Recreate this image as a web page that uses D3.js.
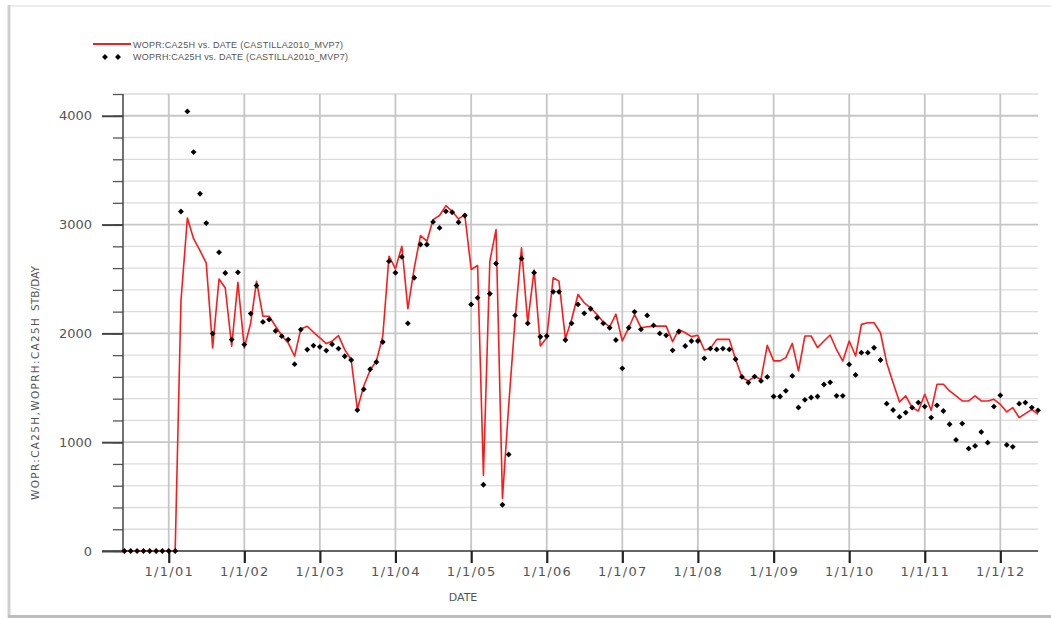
<!DOCTYPE html>
<html>
<head>
<meta charset="utf-8">
<script src="https://cdn.jsdelivr.net/npm/d3@7"></script>
<style>
  body { margin: 0; background: #fff; }
  svg { display: block; }
</style>
</head>
<body>
<svg id="chart" width="1051" height="620"></svg>
<script>
// Monthly values, first month = June 2000 (one value per month up to July 2012)
const firstMonth = new Date(2000, 5, 1);

// observed history, WOPRH:CA25H (black diamonds)
const woprh = [
    0, 0, 0, 0, 0, 0, 0,
    0, 0, 3120, 4040, 3666, 3283, 3014, 1998, 2745, 2555, 1943, 2561,
    1897, 2182, 2439, 2105, 2127, 2023, 1974, 1943, 1717, 2035, 1851, 1888,
    1876, 1842, 1900, 1860, 1790, 1755, 1295, 1486, 1670, 1737, 1921, 2664,
    2557, 2703, 2092, 2511, 2817, 2817, 3024, 2969, 3122, 3113, 3021, 3083,
    2266, 2327, 609, 2364, 2642, 425, 887, 2165, 2688, 2092, 2557, 1969,
    1976, 2382, 2382, 1939, 2092, 2266, 2184, 2226, 2144, 2092, 2052, 1939,
    1679, 2052, 2198, 2037, 2165, 2073, 2000, 1982, 1844, 2015, 1884, 1930,
    1930, 1771, 1860, 1853, 1860, 1853, 1762, 1600, 1548, 1603, 1563, 1600,
    1420, 1420, 1472, 1609, 1319, 1389, 1411, 1420, 1530, 1550, 1426, 1426,
    1715, 1618, 1823, 1823, 1868, 1755, 1354, 1296, 1232, 1272, 1318, 1364,
    1327, 1226, 1339, 1287, 1165, 1021, 1171, 941, 966, 1094, 996, 1327,
    1431, 975, 957, 1354, 1364, 1318, 1293
];

// simulated rate, WOPR:CA25H (red line)
const wopr = [
    0, 0, 0, 0, 0, 0, 0,
    0, 0, 2300, 3060, 2870, 2760, 2647, 1867, 2500, 2417, 1882, 2469,
    1867, 2096, 2479, 2157, 2157, 2066, 1980, 1912, 1790, 2041, 2066, 2010,
    1958, 1906, 1928, 1980, 1851, 1760, 1303, 1517, 1664, 1746, 1976, 2709,
    2593, 2801, 2226, 2602, 2899, 2847, 3046, 3083, 3174, 3122, 3052, 3092,
    2587, 2624, 697, 2664, 2954, 483, 1333, 2128, 2786, 2098, 2581, 1884,
    1960, 2511, 2480, 1951, 2128, 2358, 2281, 2235, 2174, 2105, 2060, 2177,
    1930, 2052, 2174, 2052, 2061, 2067, 2067, 2067, 1924, 2037, 2006, 1970,
    1982, 1847, 1860, 1945, 1945, 1945, 1762, 1594, 1563, 1603, 1579, 1890,
    1747, 1747, 1777, 1908, 1655, 1976, 1976, 1869, 1930, 1985, 1850, 1746,
    1930, 1792, 2083, 2098, 2098, 2006, 1731, 1547, 1370, 1425, 1318, 1287,
    1440, 1293, 1532, 1532, 1471, 1425, 1379, 1379, 1425, 1379, 1379, 1394,
    1348, 1278, 1318, 1226, 1263, 1302, 1256
];

const yearTicks = d3.range(2001, 2013).map(y => new Date(y, 0, 1));
const yMajor = [0, 1000, 2000, 3000, 4000];
const yMinor = d3.range(0, 4201, 200);

const legendLabels = [
    "WOPR:CA25H vs. DATE (CASTILLA2010_MVP7)",
    "WOPRH:CA25H vs. DATE (CASTILLA2010_MVP7)"
];

const svg = d3.select("#chart");
const font = "DejaVu Sans, Verdana, sans-serif";

// card frame / shadow
svg.append("rect").attr("width", 1051).attr("height", 620).attr("fill", "#fff");
svg.append("line").attr("x1", 8).attr("x2", 1051).attr("y1", 6).attr("y2", 6)
    .attr("stroke", "#ececec").attr("stroke-width", 2);
svg.append("line").attr("x1", 9).attr("x2", 9).attr("y1", 5).attr("y2", 618)
    .attr("stroke", "#cfcfcf").attr("stroke-width", 3);
svg.append("line").attr("x1", 8).attr("x2", 1051).attr("y1", 616.5).attr("y2", 616.5)
    .attr("stroke", "#bdbdbd").attr("stroke-width", 3);

// scales
const x = d3.scaleTime()
    .domain([new Date(2000, 4, 25), new Date(2012, 6, 1)])
    .range([123, 1038]);
const y = d3.scaleLinear().domain([0, 4200]).range([551, 94]);

const monthOf = i => d3.timeMonth.offset(firstMonth, i);

// grid
const grid = svg.append("g");
grid.selectAll(".hmin").data(yMinor).enter().append("line")
    .attr("x1", 123).attr("x2", 1038)
    .attr("y1", d => y(d)).attr("y2", d => y(d))
    .attr("stroke", d => d % 1000 === 0 ? "#c6c6c6" : "#dcdcdc")
    .attr("stroke-width", d => d % 1000 === 0 ? 1.8 : 1.3);
grid.selectAll(".v").data(yearTicks).enter().append("line")
    .attr("x1", d => x(d)).attr("x2", d => x(d))
    .attr("y1", 94).attr("y2", 551)
    .attr("stroke", "#c6c6c6").attr("stroke-width", 1.8);

// y axis: minor ticks then major ticks with labels
svg.append("g").attr("transform", "translate(123,0)")
    .call(d3.axisLeft(y).tickValues(yMinor).tickSize(10).tickFormat(""))
    .call(g => g.select(".domain").remove())
    .call(g => g.selectAll("line").attr("stroke", "#555").attr("stroke-width", 1.3));
svg.append("g").attr("transform", "translate(123,0)")
    .call(d3.axisLeft(y).tickValues(yMajor).tickSize(21).tickPadding(10).tickFormat(d3.format("d")))
    .call(g => g.select(".domain").remove())
    .call(g => g.selectAll("line").attr("stroke", "#444").attr("stroke-width", 2))
    .call(g => g.selectAll("text").attr("font-family", font).attr("font-size", 13).attr("fill", "#555"));
svg.append("line").attr("x1", 123).attr("x2", 123).attr("y1", 94).attr("y2", 551)
    .attr("stroke", "#444").attr("stroke-width", 1.5);

// x axis
svg.append("line").attr("x1", 102).attr("x2", 1038).attr("y1", 551).attr("y2", 551)
    .attr("stroke", "#444").attr("stroke-width", 1.6);
svg.append("g").attr("transform", "translate(0,551)")
    .call(d3.axisBottom(x).tickValues(yearTicks).tickSize(12).tickPadding(4)
        .tickFormat(d3.timeFormat("1/1/%y")))
    .call(g => g.select(".domain").remove())
    .call(g => g.selectAll("line").attr("stroke", "#222").attr("stroke-width", 2.2))
    .call(g => g.selectAll("text").attr("font-family", font).attr("font-size", 13)
        .attr("fill", "#555").attr("letter-spacing", 1.3));

svg.append("text").attr("x", 463).attr("y", 601).attr("text-anchor", "middle")
    .attr("font-family", font).attr("font-size", 11).attr("fill", "#555").text("DATE");

// y axis title
const yt = svg.append("g").attr("transform", "translate(39,0) rotate(-90)");
yt.append("text").attr("x", -500).attr("y", 0)
    .attr("font-family", font).attr("font-size", 10.5).attr("fill", "#555")
    .attr("textLength", 182).attr("lengthAdjust", "spacing")
    .text("WOPR:CA25H,WOPRH:CA25H");
yt.append("text").attr("x", -311).attr("y", 0)
    .attr("font-family", font).attr("font-size", 10.5).attr("fill", "#555")
    .attr("textLength", 45).attr("lengthAdjust", "spacing")
    .text("STB/DAY");

// simulated line
const line = d3.line().x((d, i) => x(monthOf(i))).y(d => y(d));
svg.append("path").datum(wopr)
    .attr("d", line)
    .attr("fill", "none").attr("stroke", "#ff1a1a").attr("stroke-width", 1.6)
    .attr("stroke-linejoin", "round");

// observed diamonds
const diamond = d3.symbol().type(d3.symbolSquare).size(17);
svg.append("g").selectAll("path").data(woprh).enter().append("path")
    .attr("d", diamond)
    .attr("transform", (d, i) => `translate(${x(monthOf(i))},${y(d)}) rotate(45)`)
    .attr("fill", "#000");

// legend
svg.append("line").attr("x1", 93).attr("x2", 131).attr("y1", 44).attr("y2", 44)
    .attr("stroke", "#ff1a1a").attr("stroke-width", 2);
svg.selectAll(".legd").data([105, 118]).enter().append("path")
    .attr("d", diamond)
    .attr("transform", d => `translate(${d},57) rotate(45)`)
    .attr("fill", "#000");
svg.selectAll(".legt").data(legendLabels).enter().append("text")
    .attr("x", 133).attr("y", (d, i) => 47.5 + i * 12.5)
    .attr("font-family", "Liberation Sans, Arial, sans-serif").attr("font-size", 9)
    .attr("fill", "#555")
    .attr("textLength", (d, i) => i === 0 ? 210 : 215).attr("lengthAdjust", "spacing")
    .text(d => d);
</script>
</body>
</html>
